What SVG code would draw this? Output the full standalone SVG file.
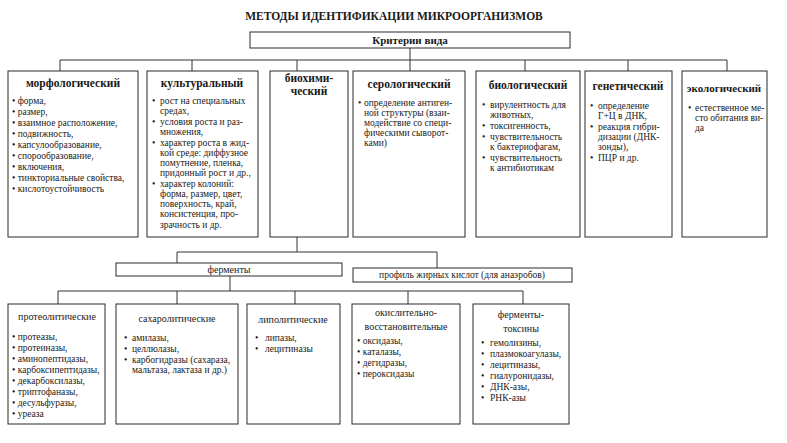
<svg xmlns="http://www.w3.org/2000/svg" width="787" height="443" viewBox="0 0 787 443">
<style>
.box{fill:#fff;stroke:#2a2a2a;stroke-width:1}
.ln{stroke:#333;stroke-width:1;fill:none}
text{font-family:"Liberation Serif","DejaVu Serif",serif;fill:#1a1a1a}
.ttl{font-size:11.5px;font-weight:bold;text-anchor:middle}
.h{font-size:11.5px;font-weight:bold;text-anchor:middle}
.h2{font-size:10px;text-anchor:middle}
.t{font-size:9.5px}
</style>
<rect width="787" height="443" fill="#fff"/>
<text class="ttl" x="394" y="20">МЕТОДЫ ИДЕНТИФИКАЦИИ МИКРООРГАНИЗМОВ</text>

<g id="connectors">
<path class="ln" d="M410 48V60M60 60H727M60 60V71M192 60V71M297 60V71M410 60V71M525 60V71M628 60V71M727 60V71"/>
<path class="ln" d="M297 237V252M177 252H437M177 252V263M437 252V268"/>
<path class="ln" d="M230 276V291M58 291H523M58 291V304M177 291V304M295 291V304M408 291V304M523 291V304"/>
</g>

<g id="criteria">
<rect class="box" x="250" y="32" width="320" height="16"/>
<text class="h" x="410" y="44" style="font-size:11px">Критерии вида</text>
</g>

<g id="morph">
<rect class="box" x="8" y="71" width="130" height="166"/>
<text class="h" x="73" y="87">морфологический</text>
<g class="t">
<text x="12" y="104">• форма,</text>
<text x="12" y="115">• размер,</text>
<text x="12" y="126">• взаимное расположение,</text>
<text x="12" y="137">• подвижность,</text>
<text x="12" y="148">• капсулообразование,</text>
<text x="12" y="159">• спорообразование,</text>
<text x="12" y="170">• включения,</text>
<text x="12" y="181">• тинкториальные свойства,</text>
<text x="12" y="192">• кислотоустойчивость</text>
</g>
</g>

<g id="cult">
<rect class="box" x="147" y="71" width="111" height="166"/>
<text class="h" x="202" y="87">культуральный</text>
<g class="t">
<text x="152" y="104">•</text><text x="160" y="104">рост на специальных</text>
<text x="160" y="114">средах,</text>
<text x="152" y="125">•</text><text x="160" y="125">условия роста и раз-</text>
<text x="160" y="135">множения,</text>
<text x="152" y="146">•</text><text x="160" y="146">характер роста в жид-</text>
<text x="160" y="156">кой среде: диффузное</text>
<text x="160" y="166">помутнение, пленка,</text>
<text x="160" y="176">придонный рост и др.,</text>
<text x="152" y="187">•</text><text x="160" y="187">характер колоний:</text>
<text x="160" y="197">форма, размер, цвет,</text>
<text x="160" y="207">поверхность, край,</text>
<text x="160" y="217">консистенция, про-</text>
<text x="160" y="228">зрачность и др.</text>
</g>
</g>

<g id="biochem">
<rect class="box" x="270" y="71" width="78" height="166"/>
<text class="h" x="309" y="82">биохими-</text>
<text class="h" x="309" y="95">ческий</text>
</g>

<g id="sero">
<rect class="box" x="353" y="71" width="112" height="166"/>
<text class="h" x="409" y="88">серологический</text>
<g class="t">
<text x="358" y="106">•</text><text x="364" y="106">определение антиген-</text>
<text x="364" y="116">ной структуры (взаи-</text>
<text x="364" y="126">модействие со специ-</text>
<text x="364" y="136">фическими сыворот-</text>
<text x="364" y="146">ками)</text>
</g>
</g>

<g id="biol">
<rect class="box" x="476" y="71" width="104" height="166"/>
<text class="h" x="528" y="89">биологический</text>
<g class="t">
<text x="482" y="108">•</text><text x="490" y="108">вирулентность для</text>
<text x="490" y="118">животных,</text>
<text x="482" y="129">•</text><text x="490" y="129">токсигенность,</text>
<text x="482" y="140">•</text><text x="490" y="140">чувствительность</text>
<text x="490" y="150">к бактериофагам,</text>
<text x="482" y="161">•</text><text x="490" y="161">чувствительность</text>
<text x="490" y="171">к антибиотикам</text>
</g>
</g>

<g id="genet">
<rect class="box" x="585" y="71" width="87" height="166"/>
<text class="h" x="628" y="90">генетический</text>
<g class="t">
<text x="590" y="109">•</text><text x="598" y="109">определение</text>
<text x="598" y="119">Г+Ц в ДНК,</text>
<text x="590" y="130">•</text><text x="598" y="130">реакция гибри-</text>
<text x="598" y="140">дизации (ДНК-</text>
<text x="598" y="150">зонды),</text>
<text x="590" y="161">•</text><text x="598" y="161">ПЦР и др.</text>
</g>
</g>

<g id="ecol">
<rect class="box" x="682" y="71" width="85" height="166"/>
<text class="h" x="724" y="92" style="font-size:11px">экологический</text>
<g class="t">
<text x="688" y="111">•</text><text x="695" y="111">естественное ме-</text>
<text x="695" y="121">сто обитания ви-</text>
<text x="695" y="131">да</text>
</g>
</g>

<g id="enzymes">
<rect class="box" x="116" y="263" width="226" height="13"/>
<text class="h2" x="229" y="273">ферменты</text>
</g>

<g id="fatty">
<rect class="box" x="353" y="268" width="219" height="14"/>
<text class="h2" x="462" y="278" style="font-size:9.5px">профиль жирных кислот (для анаэробов)</text>
</g>

<g id="proteo">
<rect class="box" x="8" y="304" width="97" height="120"/>
<text class="h2" x="57" y="320">протеолитические</text>
<g class="t">
<text x="12" y="340">• протеазы,</text>
<text x="12" y="351">• протеиназы,</text>
<text x="12" y="362">• аминопептидазы,</text>
<text x="12" y="373">• карбоксипептидазы,</text>
<text x="12" y="384">• декарбоксилазы,</text>
<text x="12" y="395">• триптофаназы,</text>
<text x="12" y="406">• десульфуразы,</text>
<text x="12" y="417">• уреаза</text>
</g>
</g>

<g id="sacch">
<rect class="box" x="116" y="304" width="122" height="120"/>
<text class="h2" x="177" y="322">сахаролитические</text>
<g class="t">
<text x="124" y="341">•</text><text x="132" y="341">амилазы,</text>
<text x="124" y="352">•</text><text x="132" y="352">целлюлазы,</text>
<text x="124" y="363">•</text><text x="132" y="363">карбогидразы (сахараза,</text>
<text x="132" y="373">мальтаза, лактаза и др.)</text>
</g>
</g>

<g id="lipo">
<rect class="box" x="247" y="304" width="93" height="120"/>
<text class="h2" x="293" y="323">липолитические</text>
<g class="t">
<text x="255" y="341">•</text><text x="265" y="341">липазы,</text>
<text x="255" y="352">•</text><text x="265" y="352">лецитиназы</text>
</g>
</g>

<g id="oxred">
<rect class="box" x="352" y="304" width="108" height="120"/>
<text class="h2" x="406" y="316">окислительно-</text>
<text class="h2" x="406" y="330">восстановительные</text>
<g class="t">
<text x="357" y="344">• оксидазы,</text>
<text x="357" y="355">• каталазы,</text>
<text x="357" y="366">• дегидразы,</text>
<text x="357" y="377">• пероксидазы</text>
</g>
</g>

<g id="toxins">
<rect class="box" x="473" y="304" width="96" height="120"/>
<text class="h2" x="521" y="318">ферменты-</text>
<text class="h2" x="521" y="332">токсины</text>
<g class="t">
<text x="481" y="346">•</text><text x="490" y="346">гемолизины,</text>
<text x="481" y="357">•</text><text x="490" y="357">плазмокоагулазы,</text>
<text x="481" y="368">•</text><text x="490" y="368">лецитиназы,</text>
<text x="481" y="379">•</text><text x="490" y="379">гиалуронидазы,</text>
<text x="481" y="390">•</text><text x="490" y="390">ДНК-азы,</text>
<text x="481" y="401">•</text><text x="490" y="401">РНК-азы</text>
</g>
</g>
</svg>
